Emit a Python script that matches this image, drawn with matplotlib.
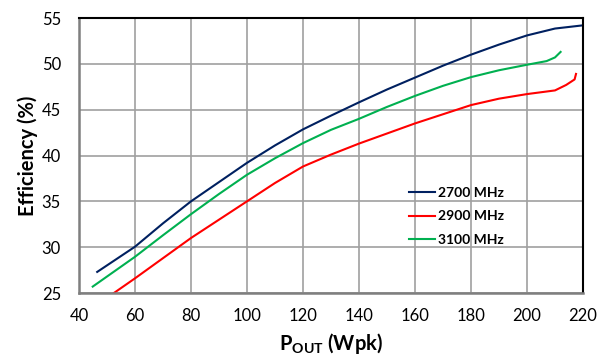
import matplotlib
matplotlib.use('Agg')
from matplotlib import pyplot as plt

# Efficiency vs output power
p_2700 = [46.5, 60, 70, 80, 90, 100, 110, 120, 130, 140, 150, 160, 170, 180, 190, 200, 210, 220]
e_2700 = [27.3, 30.05, 32.6, 35.0, 37.1, 39.2, 41.1, 42.85, 44.35, 45.8, 47.2, 48.5, 49.8, 51.0, 52.1, 53.1, 53.85, 54.2]

p_2900 = [52, 60, 70, 80, 90, 100, 110, 120, 130, 140, 150, 160, 170, 180, 190, 200, 205, 210, 214, 217, 217.5]
e_2900 = [24.9, 26.6, 28.8, 31.0, 33.0, 35.0, 37.0, 38.8, 40.1, 41.3, 42.4, 43.5, 44.5, 45.5, 46.2, 46.7, 46.9, 47.1, 47.7, 48.3, 48.9]

p_3100 = [44.9, 60, 70, 80, 90, 100, 110, 120, 130, 140, 150, 160, 170, 180, 190, 200, 207, 210, 212]
e_3100 = [25.7, 28.95, 31.3, 33.6, 35.8, 37.9, 39.7, 41.35, 42.8, 44.0, 45.3, 46.5, 47.6, 48.55, 49.3, 49.9, 50.3, 50.7, 51.3]

plt.rcParams['font.family'] = ['Lato', 'DejaVu Sans']
plt.rcParams['mathtext.fontset'] = 'custom'
plt.rcParams['mathtext.bf'] = 'Lato:bold'
plt.rcParams['mathtext.rm'] = 'Lato'

fig = plt.figure(figsize=(5.99, 3.58), dpi=100)
ax = fig.add_axes([79/599, 1-293/358, (583-79)/599, (293-18)/358])

ax.plot(p_2700, e_2700, color='#002060', lw=1.5, label='2700 MHz')
ax.plot(p_2900, e_2900, color='#ff0000', lw=1.5, label='2900 MHz')
ax.plot(p_3100, e_3100, color='#00b050', lw=1.5, label='3100 MHz')

ax.set_xlim(40, 220)
ax.set_ylim(25, 55)
ax.set_xticks(range(40, 221, 20))
ax.set_yticks(range(25, 56, 5))
ax.grid(True, color='#a0a0a0', lw=1.2)
ax.set_axisbelow(True)
ax.tick_params(length=0, labelsize=12, pad=11)
ax.tick_params(axis='y', pad=13)

for s in ('left', 'bottom'):
    ax.spines[s].set_color('#7f7f7f')
    ax.spines[s].set_linewidth(1.8)
for s in ('top', 'right'):
    ax.spines[s].set_color('black')
    ax.spines[s].set_linewidth(1.5)

ax.set_ylabel('Efficiency (%)', fontsize=14.5, fontweight='bold', labelpad=3)
ax.set_xlabel(r'$\mathbf{P_{OUT}}$ (Wpk)', fontsize=14.5, fontweight='bold', labelpad=5)

leg = ax.legend(loc='upper left', bbox_to_anchor=(403/599, 1-181/358),
                bbox_transform=fig.transFigure, frameon=False, borderaxespad=0,
                prop={'weight': 'bold', 'size': 10}, handlelength=1.9,
                handletextpad=0.2, labelspacing=0.85)

fig.savefig('out.png', dpi=100)
